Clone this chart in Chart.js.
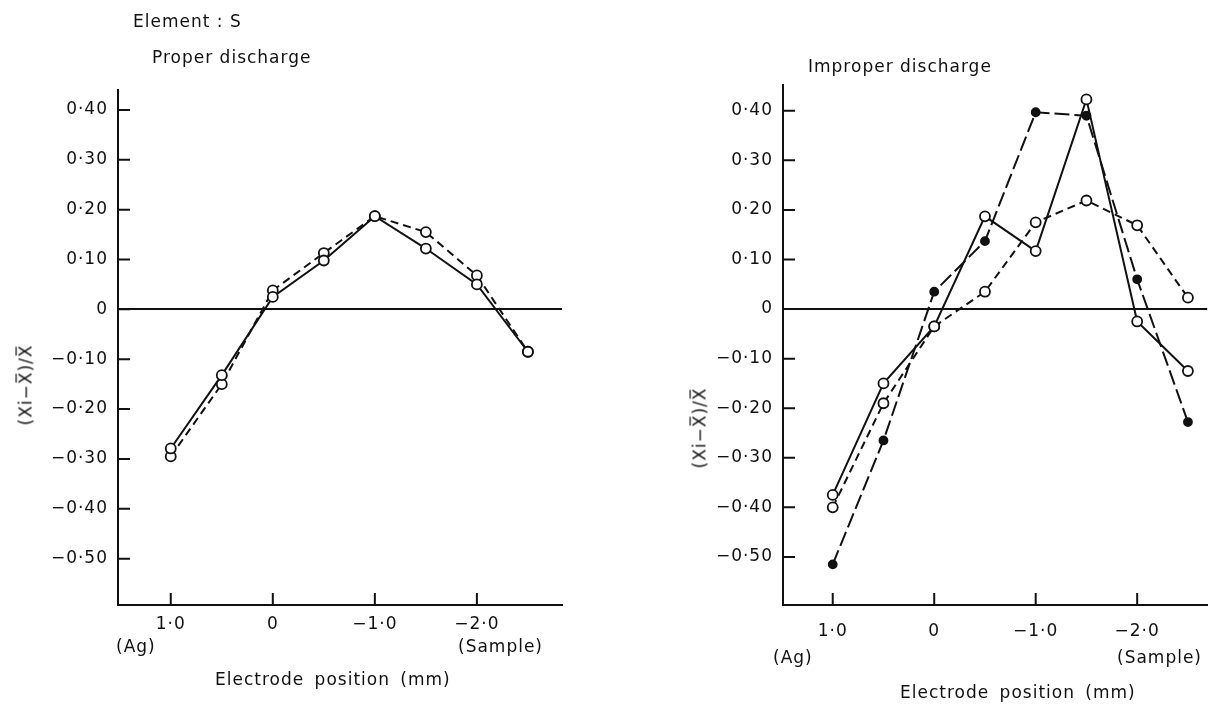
<!DOCTYPE html>
<html><head><meta charset="utf-8">
<script src="https://cdn.jsdelivr.net/npm/chart.js@4.4.1/dist/chart.umd.min.js"></script>
<style>
html,body{margin:0;padding:0;background:#fff;}
#wrap{position:relative;width:1214px;height:706px;overflow:hidden;font-family:"DejaVu Sans",sans-serif;color:#111;}
canvas{position:absolute;top:0;}
.t{position:absolute;font-size:17px;letter-spacing:1px;white-space:nowrap;line-height:1;}
.rot{transform:translate(-50%,-50%) rotate(-90deg);}
</style></head><body>
<div id="wrap">
<canvas id="c1" width="600" height="706" style="left:0;width:600px;height:706px"></canvas>
<canvas id="c2" width="614" height="706" style="left:600px;width:614px;height:706px"></canvas>
<div class="t" style="left:133px;top:13px">Element : S</div>
<div class="t" style="left:152px;top:49px">Proper discharge</div>
<div class="t" style="left:808px;top:58px">Improper discharge</div>
<div class="t" style="left:116px;top:638px">(Ag)</div>
<div class="t" style="left:458px;top:638px">(Sample)</div>
<div class="t" style="left:215px;top:671px;word-spacing:4px">Electrode position (mm)</div>
<div class="t" style="left:773px;top:649px">(Ag)</div>
<div class="t" style="left:1117px;top:649px">(Sample)</div>
<div class="t" style="left:900px;top:684px;word-spacing:4px">Electrode position (mm)</div>
<div class="t rot" style="left:26px;top:385px">(Xi−X̅)/X̅</div>
<div class="t rot" style="left:700px;top:428px">(Xi−X̅)/X̅</div>
</div>
<script>
// Data
const positions = [1.0, 0.5, 0, -0.5, -1.0, -1.5, -2.0, -2.5];
const properSolid = [-0.279, -0.132, 0.025, 0.098, 0.187, 0.122, 0.050, -0.085];
const properDashed = [-0.295, -0.150, 0.038, 0.113, 0.187, 0.155, 0.068, -0.085];
const improperFilled = [-0.515, -0.265, 0.035, 0.137, 0.397, 0.390, 0.060, -0.228];
const improperSolid = [-0.375, -0.150, -0.035, 0.187, 0.117, 0.423, -0.025, -0.125];
const improperDashed = [-0.400, -0.190, -0.035, 0.035, 0.175, 0.219, 0.169, 0.023];
const yTickValues = [0.4, 0.3, 0.2, 0.1, 0, -0.1, -0.2, -0.3, -0.4, -0.5];
const yTickLabels = ['0·40', '0·30', '0·20', '0·10', '0', '−0·10', '−0·20', '−0·30', '−0·40', '−0·50'];
const xTickValues = [1, 0, -1, -2];
const xTickLabels = ['1·0', '0', '−1·0', '−2·0'];

const INK = '#111';
const FONT = {family: '"DejaVu Sans", sans-serif', size: 17};

function pts(vals){ return positions.map((x,i)=>({x:x, y:vals[i]})); }

function ds(vals, style){
  const filled = style === 'filled';
  return {
    data: pts(vals),
    borderColor: INK,
    borderWidth: 2,
    borderDash: style === 'solid' ? [] : (style === 'filled' ? [15,5] : [8,5]),
    pointStyle: 'circle',
    pointRadius: filled ? 4 : 5,
    pointBorderWidth: 1.8,
    pointBorderColor: INK,
    pointBackgroundColor: filled ? INK : '#fff',
    fill: false,
    tension: 0
  };
}

const inwardTicks = {
  id: 'inwardTicks',
  beforeDraw(chart){ chart.ctx.letterSpacing = '1px'; },
  afterDraw(chart){
    const {ctx, chartArea: a, scales: {x, y}} = chart;
    ctx.save();
    ctx.strokeStyle = INK; ctx.lineWidth = 2;
    ctx.beginPath();
    x.ticks.forEach(t => { const px = x.getPixelForValue(t.value); ctx.moveTo(px, a.bottom); ctx.lineTo(px, a.bottom - 12); });
    y.ticks.forEach(t => { const py = y.getPixelForValue(t.value); ctx.moveTo(a.left, py); ctx.lineTo(a.left + 12, py); });
    ctx.stroke();
    ctx.restore();
  }
};

function makeChart(id, datasets, c){
  return new Chart(document.getElementById(id), {
    type: 'line',
    data: {datasets},
    plugins: [inwardTicks],
    options: {
      responsive: false, animation: false, devicePixelRatio: 1,
      layout: {padding: {left: 0, top: c.top, right: c.right, bottom: 0}},
      plugins: {legend: {display: false}, tooltip: {enabled: false}},
      scales: {
        x: {
          type: 'linear', reverse: true, min: c.xmin, max: c.xmax,
          afterBuildTicks: s => { s.ticks = xTickValues.map(v => ({value: v})); },
          afterFit: s => { s.height = c.xh; },
          ticks: {callback: (v, i) => xTickLabels[i], font: FONT, color: INK, padding: c.xpad, maxRotation: 0, autoSkip: false},
          grid: {display: false, drawTicks: false},
          border: {display: true, color: INK, width: 2}
        },
        y: {
          type: 'linear', min: c.ymin, max: c.ymax,
          afterBuildTicks: s => { s.ticks = yTickValues.map(v => ({value: v})); },
          afterFit: s => { s.width = c.yw; },
          ticks: {callback: (v, i) => yTickLabels[i], font: FONT, color: INK, padding: 10, autoSkip: false},
          grid: {drawTicks: false, lineWidth: 2,
            color: ctx => (ctx.tick && ctx.tick.value === 0) ? INK : 'rgba(0,0,0,0)'},
          border: {display: true, color: INK, width: 2}
        }
      }
    }
  });
}

makeChart('c1', [ds(properSolid, 'solid'), ds(properDashed, 'dashed')],
  {top: 90, right: 38, xh: 101, yw: 118, xmin: -2.834, xmax: 1.517, ymin: -0.593, ymax: 0.44, xpad: 9});
makeChart('c2', [ds(improperFilled, 'filled'), ds(improperSolid, 'solid'), ds(improperDashed, 'dashed')],
  {top: 85, right: 6, xh: 101, yw: 183, xmin: -2.69, xmax: 1.49, ymin: -0.597, ymax: 0.452, xpad: 16});
</script>
</body></html>
